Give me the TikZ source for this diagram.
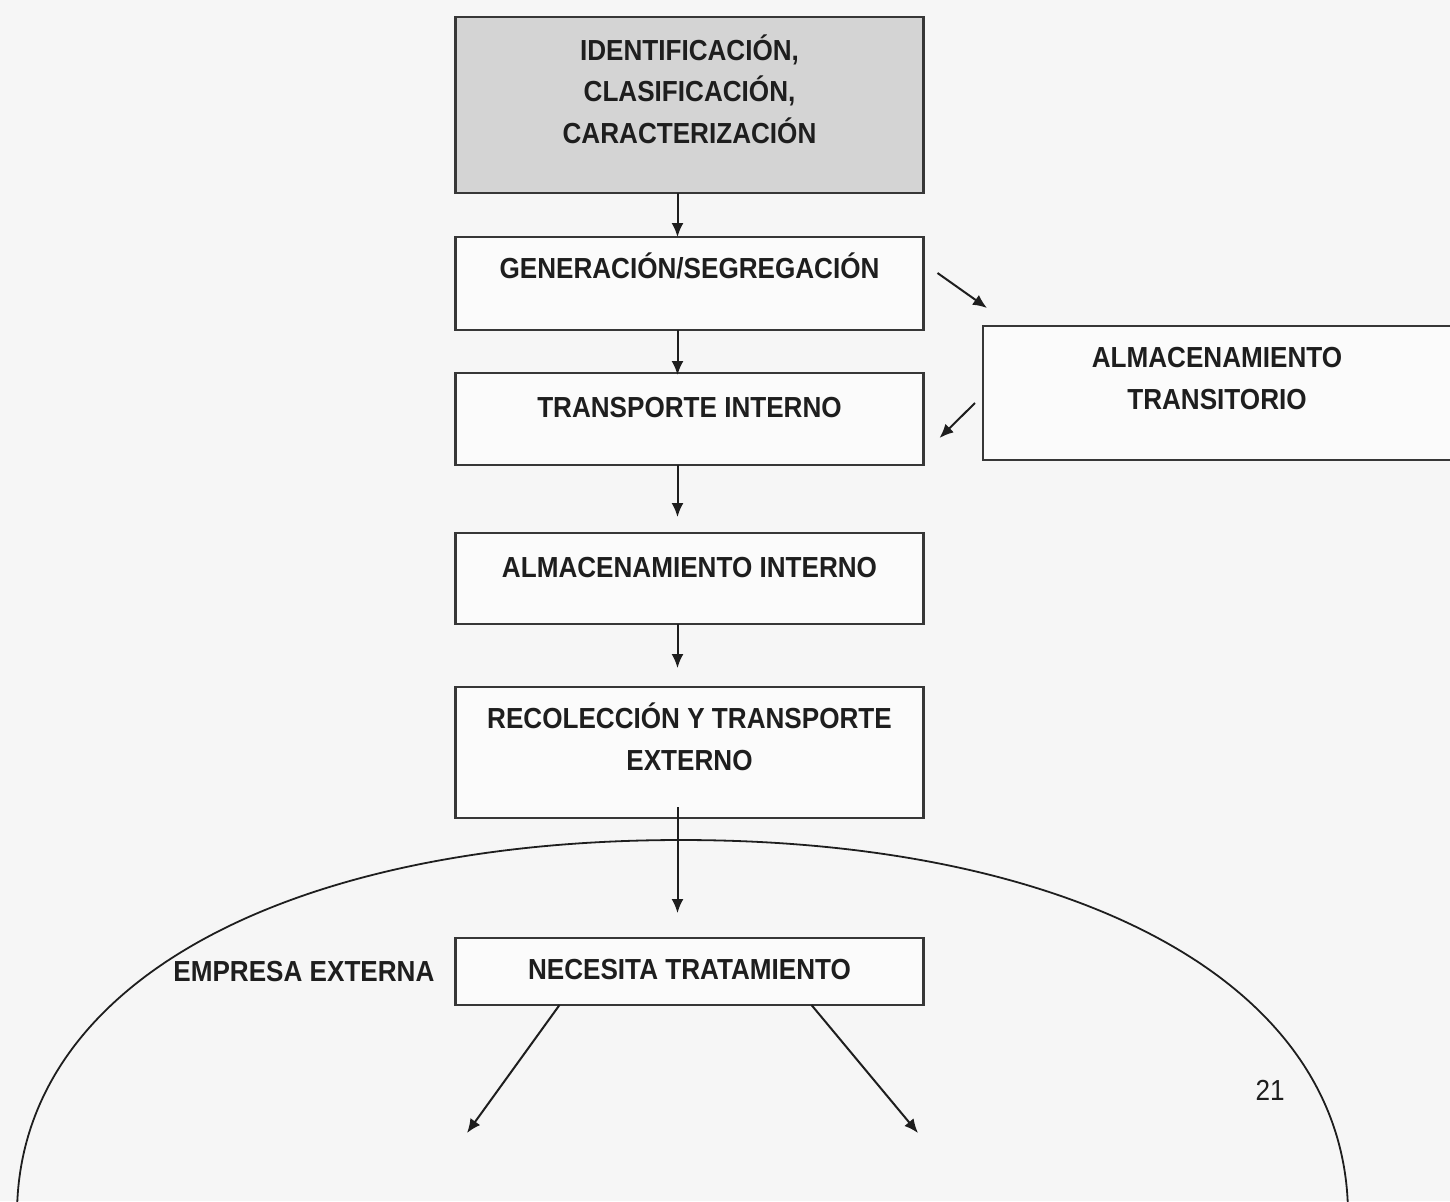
\documentclass[tikz,border=0pt]{standalone}
\usepackage{fontspec}
\setmainfont{Liberation Sans}[FakeStretch=0.9]
\usetikzlibrary{positioning}
\usetikzlibrary{arrows.meta}

\definecolor{papel}{RGB}{246,246,246}
\definecolor{trazo}{RGB}{55,55,55}
\definecolor{relleno}{RGB}{212,212,212}
\definecolor{tinta}{RGB}{30,30,30}

\begin{document}
\begin{tikzpicture}[
                          x=0.5pt, y=-0.5pt,
                          >={Latex[length=7pt,width=6pt]},
                          etapa/.style={rectangle, draw=trazo, line width=1.4pt, fill=white!60!papel, inner sep=0pt, outer sep=0pt, minimum width=234pt, align=center, font=\bfseries\fontsize{14.5}{20.75}\selectfont, text=tinta},
                          etapa_gris/.style={etapa, fill=relleno},
                          flecha/.style={->, line width=1pt, draw=tinta},
                      ]
                      \fill[papel] (0,0) rectangle (1450,1201);
                      \useasboundingbox (0,0) rectangle (1450,1201);

                      % Nodes
                      \node[etapa_gris, text height=63pt, text depth=25pt] (ident) [anchor=north] at (689.5,17) {IDENTIFICACIÓN,\\CLASIFICACIÓN,\\CARACTERIZACIÓN};
                      \node[etapa, text height=20.5pt, text depth=26pt]   (gener)    [below=22pt of ident]    {GENERACIÓN/SEGREGACIÓN};
                      \node[etapa, text height=22pt, text depth=24pt]     (transint) [below=21.5pt of gener]  {TRANSPORTE INTERNO};
                      \node[etapa, text height=22pt, text depth=23.5pt]   (almint)   [below=34pt of transint] {ALMACENAMIENTO INTERNO};
                      \node[etapa, text height=41.5pt, text depth=24pt]   (recol)    [below=31.5pt of almint] {RECOLECCIÓN Y TRANSPORTE\\EXTERNO};
                      \node[etapa, text height=20.5pt, text depth=13pt]   (necesita) [below=60pt of recol]    {NECESITA TRATAMIENTO};
                      \node[etapa, text height=41.5pt, text depth=25.5pt] (transit)  [anchor=north west] at (983,326) {ALMACENAMIENTO\\TRANSITORIO};

                      \node[font=\bfseries\fontsize{14.5}{17}\selectfont, text=tinta] (empresa) [left=7pt of necesita] {EMPRESA EXTERNA};
                      \node[font=\fontsize{14.5}{17}\selectfont, text=tinta] (pagina) at (1270,1090) {21};

                      \coordinate (izq) at (467,1133);
                      \coordinate (der) at (918,1133);

                      % Lines
                      \draw[flecha] ([xshift=-6pt]ident.south) -- ([xshift=-6pt]gener.north);
                      \draw[flecha] ([xshift=-6pt]gener.south) -- ([xshift=-6pt,yshift=-1pt]transint.north);
                      \draw[flecha, shorten >=8pt] ([xshift=-6pt]transint.south) -- ([xshift=-6pt]almint.north);
                      \draw[flecha, shorten >=9.5pt] ([xshift=-6pt]almint.south) -- ([xshift=-6pt]recol.north);
                      \draw[flecha, shorten <=-5.5pt, shorten >=12.5pt] ([xshift=-6pt]recol.south) -- ([xshift=-6pt]necesita.north);
                      \draw[flecha] ([shift={(7pt,-18pt)}]gener.north east) -- ([shift={(2pt,9pt)}]transit.north west);
                      \draw[flecha] ([shift={(-4pt,-38.5pt)}]transit.north west) -- ([shift={(8pt,-32.5pt)}]transint.north east);
                      \draw[flecha] ([xshift=52pt]necesita.south west) -- (izq);
                      \draw[flecha] ([xshift=-56pt]necesita.south east) -- (der);

                      % Empresa externa
                      \draw[line width=0.9pt, tinta] (17,1215) .. controls (17,980) and (292,840) .. (681,840) .. controls (1070,840) and (1348,980) .. (1348,1215);
                  \end{tikzpicture}
\end{document}
